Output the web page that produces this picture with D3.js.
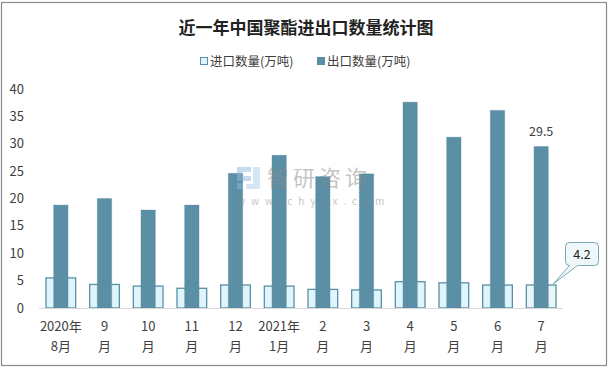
<!DOCTYPE html>
<html>
<head>
<meta charset="utf-8">
<script src="https://cdn.jsdelivr.net/npm/d3@7"></script>
<style>
  body { margin: 0; background: #fff; }
  svg { display: block; font-family: "Noto Sans CJK SC", "Noto Sans", sans-serif; }
</style>
</head>
<body>
<svg id="chart"></svg>
<script>
const months = [
  ["2020年", "8月"], ["9", "月"], ["10", "月"], ["11", "月"], ["12", "月"],
  ["2021年", "1月"], ["2", "月"], ["3", "月"], ["4", "月"], ["5", "月"], ["6", "月"], ["7", "月"]
];
const importVals = [5.5, 4.3, 4.0, 3.6, 4.2, 4.0, 3.4, 3.3, 4.8, 4.6, 4.2, 4.2];
const exportVals = [18.8, 20.0, 17.9, 18.8, 24.6, 27.9, 24.0, 24.5, 37.6, 31.2, 36.1, 29.5];
const yTicks = [0, 5, 10, 15, 20, 25, 30, 35, 40];

const width = 612, height = 372;
const svg = d3.select("#chart").attr("width", width).attr("height", height);

// outer frame
svg.append("rect")
  .attr("x", 1.5).attr("y", 2.5).attr("width", 605).attr("height", 363)
  .attr("fill", "#fff").attr("stroke", "#8a8a8a").attr("stroke-width", 1.2);

svg.append("text")
  .attr("x", 306).attr("y", 34)
  .attr("text-anchor", "middle")
  .attr("font-size", 17).attr("font-weight", "bold").attr("fill", "#222")
  .text("近一年中国聚酯进出口数量统计图");

// legend
const legend = [
  { label: "进口数量(万吨)", fill: "#dff4fb", stroke: "#5a8fa8", x: 200 },
  { label: "出口数量(万吨)", fill: "#5b8fa6", stroke: "#5b8fa6", x: 317 }
];
legend.forEach(l => {
  svg.append("rect").attr("x", l.x + 0.5).attr("y", 57.5).attr("width", 7).attr("height", 7)
    .attr("fill", l.fill).attr("stroke", l.stroke);
  svg.append("text").attr("x", l.x + 10).attr("y", 66)
    .attr("font-size", 12.5).attr("fill", "#404040").text(l.label);
});

const x = d3.scaleBand()
  .domain(d3.range(months.length))
  .range([39, 563]);

const y = d3.scaleLinear().domain([0, 40]).range([308, 89]);

// y labels
svg.append("g").selectAll("text")
  .data(yTicks).enter().append("text")
  .attr("x", 24).attr("y", d => y(d) + 4.5)
  .attr("text-anchor", "end")
  .attr("font-size", 13).attr("fill", "#404040")
  .text(d => d);

const importW = x.bandwidth() * 0.68;
const exportW = x.bandwidth() * 0.33;
const cx = i => x(i) + x.bandwidth() / 2;

svg.append("g").selectAll("rect")
  .data(importVals).enter().append("rect")
  .attr("x", (d, i) => cx(i) - importW / 2)
  .attr("y", d => y(d))
  .attr("width", importW)
  .attr("height", d => y(0) - y(d))
  .attr("fill", (d, i) => i === importVals.length - 1 ? "#eaf6f6" : "#dff4fb")
  .attr("stroke", "#5a8fa8").attr("stroke-width", 1.3);

svg.append("g").selectAll("rect")
  .data(exportVals).enter().append("rect")
  .attr("x", (d, i) => cx(i) - exportW / 2)
  .attr("y", d => y(d))
  .attr("width", exportW)
  .attr("height", d => y(0) - y(d))
  .attr("fill", "#5b8fa6")
  .attr("stroke", "#52859b").attr("stroke-width", 0.6).attr("stroke-dasharray", "1,1");

// axis line
svg.append("line")
  .attr("x1", 39).attr("x2", 563).attr("y1", y(0) + 0.5).attr("y2", y(0) + 0.5)
  .attr("stroke", "#d9d9d9").attr("stroke-width", 1.2);

// watermark, drawn over the bars
const wm = svg.append("g").attr("opacity", 0.5);
wm.append("path")
  .attr("d", "M237,167 h14 v5 h-9 v4 h9 v5 h-14 z M237,183 h6 v6 h-6 z")
  .attr("fill", "#8fb9e0");
wm.append("path")
  .attr("d", "M253,167 h7 v22 h-14 v-5 h7 z")
  .attr("fill", "#add0ee");
wm.append("text").attr("x", 267).attr("y", 186)
  .attr("font-size", 22).attr("letter-spacing", 4).attr("fill", "#8c8c8c").text("智研咨询");
wm.append("text").attr("x", 237).attr("y", 205)
  .attr("font-size", 10).attr("letter-spacing", 6).attr("fill", "#8c8c8c").text("www.chyxx.com");

// x labels
const xl = svg.append("g").selectAll("text")
  .data(months).enter().append("text")
  .attr("text-anchor", "middle")
  .attr("font-size", 13).attr("fill", "#404040");
xl.append("tspan").attr("x", (d, i) => cx(i)).attr("y", 331).text(d => d[0]);
xl.append("tspan").attr("x", (d, i) => cx(i)).attr("y", 351).text(d => d[1]);

// data label on last export bar
const last = exportVals.length - 1;
svg.append("text")
  .attr("x", cx(last)).attr("y", y(exportVals[last]) - 10)
  .attr("text-anchor", "middle").attr("font-size", 12.5).attr("fill", "#404040")
  .text(exportVals[last]);

// callout on last import bar
const tipX = cx(last) + 12, tipY = y(importVals[last]) - 1;
const bx = 565.5, by = 242.5, bw = 33, bh = 23;
svg.append("path")
  .attr("d", `M${bx + 4},${by} H${bx + bw - 4} Q${bx + bw},${by} ${bx + bw},${by + 4} V${by + bh - 4} Q${bx + bw},${by + bh} ${bx + bw - 4},${by + bh} H${bx + 12} L${tipX},${tipY} L${bx + 4},${by + bh} Q${bx},${by + bh} ${bx},${by + bh - 4} V${by + 4} Q${bx},${by} ${bx + 4},${by} Z`)
  .attr("fill", "#eef8f8").attr("stroke", "#7aa6b8").attr("stroke-width", 1);
svg.append("text")
  .attr("x", bx + bw / 2).attr("y", by + 16)
  .attr("text-anchor", "middle").attr("font-size", 12.5).attr("fill", "#222")
  .text(importVals[last]);
</script>
</body>
</html>
